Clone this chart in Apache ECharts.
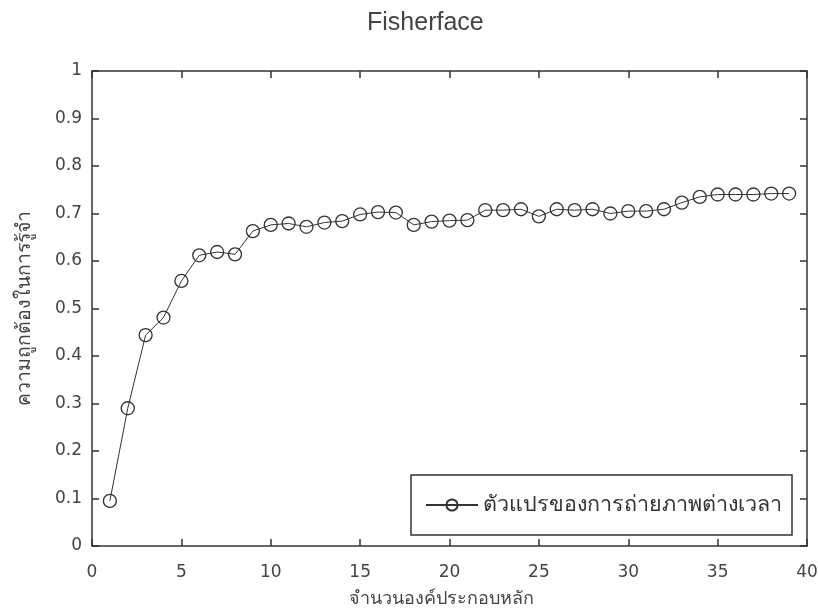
<!DOCTYPE html>
<html>
<head>
<meta charset="utf-8">
<script src="https://cdn.jsdelivr.net/npm/echarts@6/dist/echarts.min.js"></script>
<style>html,body{margin:0;padding:0;background:#fff;}#c{width:818px;height:608px;}</style>
</head>
<body>
<div id="c"></div>
<script>
var titleText = 'Fisherface';
var xName = 'จำนวนองค์ประกอบหลัก';
var yName = 'ความถูกต้องในการรู้จำ';
var seriesName = 'ตัวแปรของการถ่ายภาพต่างเวลา';
var xValues = [1,2,3,4,5,6,7,8,9,10,11,12,13,14,15,16,17,18,19,20,21,22,23,24,25,26,27,28,29,30,31,32,33,34,35,36,37,38,39];
var accuracy = [0.095,0.290,0.444,0.481,0.558,0.612,0.619,0.614,0.663,0.676,0.679,0.672,0.681,0.684,0.698,0.703,0.702,0.676,0.683,0.685,0.686,0.707,0.707,0.709,0.694,0.709,0.707,0.709,0.700,0.705,0.705,0.709,0.723,0.735,0.740,0.740,0.740,0.742,0.742];

var ink = '#333';
var data = xValues.map(function(x, i){ return [x, accuracy[i]]; });
var chart = echarts.init(document.getElementById('c'), null, {renderer:'canvas'});
var tickFont = {fontFamily:'DejaVu Sans', fontSize:17, color:'#444'};
function mkX(pos, show){
  return {type:'value', position:pos, min:0, max:40, interval:5,
    axisLine:{show:true, onZero:false, lineStyle:{color:ink, width:1.5}},
    axisTick:{show:true, inside:true, length:7, lineStyle:{color:ink, width:1.5}},
    axisLabel:Object.assign({show:show, margin:18}, tickFont),
    splitLine:{show:false}};
}
function mkY(pos, show){
  return {type:'value', position:pos, min:0, max:1, interval:0.1,
    axisLine:{show:true, onZero:false, lineStyle:{color:ink, width:1.5}},
    axisTick:{show:true, inside:true, length:7, lineStyle:{color:ink, width:1.5}},
    axisLabel:Object.assign({show:show, margin:10, formatter:function(v){return Math.round(v*10)/10+'';}}, tickFont),
    splitLine:{show:false}};
}
var xa = mkX('bottom', true);
xa.name = xName; xa.nameLocation = 'middle'; xa.nameGap = 44;
xa.nameTextStyle = {fontFamily:'Noto Sans', fontSize:18, color:'#444', padding:[0,16,0,0]};
var ya = mkY('left', true);
ya.name = yName; ya.nameLocation = 'middle'; ya.nameGap = 58;
ya.nameTextStyle = {fontFamily:'Noto Sans', fontSize:19.5, color:'#444'};
chart.setOption({
  animation:false,
  backgroundColor:'#fff',
  title:{text:titleText, left:362, top:6, textStyle:{fontFamily:'Liberation Sans', fontWeight:'normal', fontSize:25, color:'#444'}},
  grid:{left:92, right:11, top:71, bottom:62, containLabel:false, outerBoundsMode:'none'},
  xAxis:[xa, mkX('top', false)],
  yAxis:[ya, mkY('right', false)],
  legend:{show:true, right:26, top:475, orient:'horizontal',
    backgroundColor:'#fff', borderColor:ink, borderWidth:1.5, borderRadius:0,
    padding:[19, 10, 19, 14], itemWidth:52, itemHeight:14, itemGap:8,
    textStyle:{fontFamily:'Noto Sans', fontSize:21.5, lineHeight:22, color:'#333'},
    data:[{name:seriesName}]},
  series:[{
    name:seriesName, type:'line', xAxisIndex:0, yAxisIndex:0, data:data,
    symbol:'circle', symbolSize:13,
    lineStyle:{color:ink, width:1},
    itemStyle:{color:'rgba(0,0,0,0)', borderColor:ink, borderWidth:1.3},
    emphasis:{disabled:true}
  }]
});
</script>
</body>
</html>
